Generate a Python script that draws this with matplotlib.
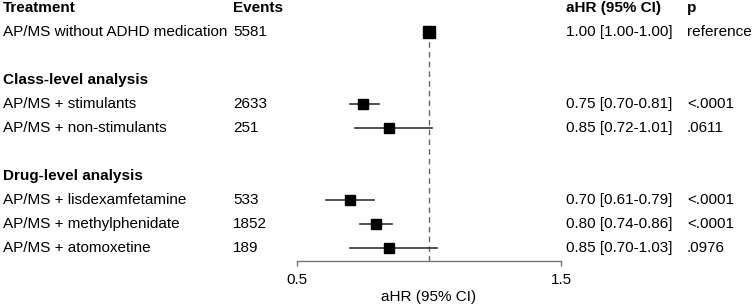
import matplotlib.pyplot as plt
import matplotlib.transforms as mtransforms

plt.rcParams['font.family'] = ['Liberation Sans', 'DejaVu Sans']

# Lignes du tableau (None = pas de point)
labels = ["AP/MS without ADHD medication", None, "Class-level analysis",
          "AP/MS + stimulants", "AP/MS + non-stimulants", None,
          "Drug-level analysis", "AP/MS + lisdexamfetamine",
          "AP/MS + methylphenidate", "AP/MS + atomoxetine"]
events = ["5581", "", "", "2633", "251", "", "", "533", "1852", "189"]
hr = [1.00, None, None, 0.75, 0.85, None, None, 0.70, 0.80, 0.85]
ci_low = [1.00, None, None, 0.70, 0.72, None, None, 0.61, 0.74, 0.70]
ci_high = [1.00, None, None, 0.81, 1.01, None, None, 0.79, 0.86, 1.03]
hr_text = ["1.00 [1.00-1.00]", "", "", "0.75 [0.70-0.81]", "0.85 [0.72-1.01]",
           "", "", "0.70 [0.61-0.79]", "0.80 [0.74-0.86]", "0.85 [0.70-1.03]"]
p_text = ["reference", "", "", "<.0001", ".0611", "", "", "<.0001", "<.0001", ".0976"]
section_rows = ["Class-level analysis", "Drug-level analysis"]

W, H = 753, 308
fig = plt.figure(figsize=(W / 100, H / 100), dpi=100)

# Zone du graphique : de 0.5 (x=297px) a 1.5 (x=561px), axe en bas a y=261px
ax = fig.add_axes([297 / W, (H - 261) / H, (561 - 297) / W, 261 / H])
ax.set_xlim(0.5, 1.5)
ax.set_ylim((261 - 8) / 24, -8 / 24)

for s in ["top", "right", "left"]:
    ax.spines[s].set_visible(False)
ax.spines["bottom"].set_color("#777777")
ax.spines["bottom"].set_linewidth(1.0)
ax.set_yticks([])
ax.set_xticks([0.5, 1.5])
ax.set_xticklabels(["0.5", "1.5"])
ax.tick_params(axis="x", length=3.5, width=1.0, color="#777777", labelsize=11, pad=5)
ax.set_xlabel("aHR (95% CI)", fontsize=11, labelpad=2)

# Ligne de reference
ax.plot([1.0, 1.0], [1, (261 - 8) / 24], color="#666666", lw=1.0,
        linestyle=(0, (4, 3)), zorder=1)

tr = mtransforms.blended_transform_factory(fig.transFigure, ax.transData)

def put(x_px, row, txt, bold=False):
    ax.text(x_px / W, row, txt, transform=tr, ha="left", va="center",
            fontsize=11, fontweight="bold" if bold else "normal", clip_on=False)

put(3, 0, "Treatment", True)
put(233, 0, "Events", True)
put(566, 0, "aHR (95% CI)", True)
put(687, 0, "p", True)

for i, lab in enumerate(labels):
    row = i + 1
    if lab is None:
        continue
    put(3, row, lab, lab in section_rows)
    if events[i]:
        put(233, row, events[i])
    if hr_text[i]:
        put(566, row, hr_text[i])
        put(687, row, p_text[i])
    if hr[i] is not None:
        ax.plot([ci_low[i], ci_high[i]], [row, row], color="#333333", lw=1.2,
                zorder=2, clip_on=False)
        ms = 8.5 if i == 0 else 7.5
        ax.plot(hr[i], row, marker="s", color="black", markersize=ms,
                zorder=3, clip_on=False)

fig.savefig("out.png", dpi=100)
